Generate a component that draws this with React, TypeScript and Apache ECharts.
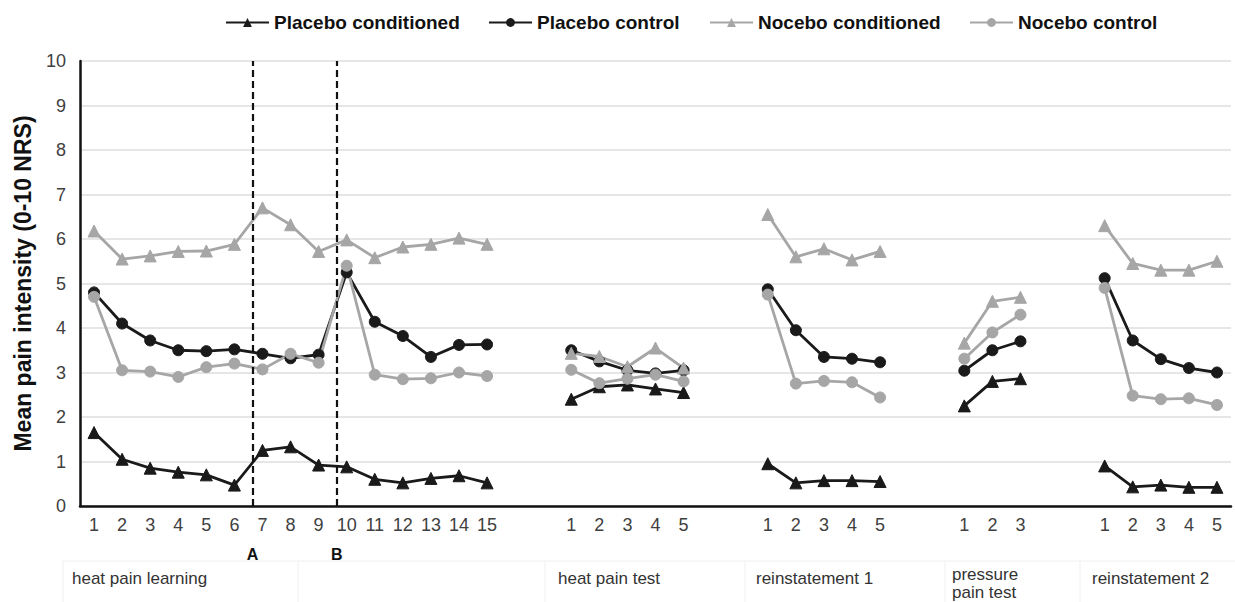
import React, { useEffect, useRef } from 'react';
import * as echarts from 'echarts';

// Phases of the experiment and number of trials per phase
const phaseNames = ['heat pain learning', 'heat pain test', 'reinstatement 1', 'pressure\npain test', 'reinstatement 2'];
const phaseTrials = [15, 5, 5, 3, 5];
const gapSlots = 2;

// Mean pain intensity per phase (0-10 NRS)
const placeboConditioned = [
  [1.65, 1.05, 0.85, 0.76, 0.7, 0.47, 1.25, 1.33, 0.92, 0.88, 0.6, 0.52, 0.62, 0.68, 0.52],
  [2.4, 2.68, 2.72, 2.63, 2.55],
  [0.95, 0.52, 0.57, 0.57, 0.55],
  [2.25, 2.8, 2.86],
  [0.9, 0.43, 0.47, 0.42, 0.42],
];
const placeboControl = [
  [4.8, 4.1, 3.72, 3.5, 3.48, 3.52, 3.42, 3.32, 3.4, 5.25, 4.14, 3.82, 3.35, 3.62, 3.63],
  [3.5, 3.25, 3.05, 2.98, 3.05],
  [4.87, 3.95, 3.35, 3.31, 3.23],
  [3.04, 3.5, 3.7],
  [5.12, 3.72, 3.3, 3.1, 3.0],
];
const noceboConditioned = [
  [6.18, 5.55, 5.62, 5.72, 5.73, 5.88, 6.7, 6.32, 5.72, 5.98, 5.58, 5.82, 5.88, 6.02, 5.88],
  [3.43, 3.36, 3.13, 3.55, 3.1],
  [6.55, 5.6, 5.78, 5.53, 5.72],
  [3.66, 4.6, 4.69],
  [6.3, 5.45, 5.3, 5.3, 5.5],
];
const noceboControl = [
  [4.7, 3.05, 3.02, 2.9, 3.12, 3.2, 3.07, 3.42, 3.22, 5.4, 2.95, 2.85, 2.87, 3.0, 2.92],
  [3.06, 2.76, 2.86, 2.95, 2.8],
  [4.75, 2.75, 2.81, 2.78, 2.44],
  [3.31, 3.9, 4.3],
  [4.9, 2.48, 2.4, 2.42, 2.27],
];

const seriesNames = ['Placebo conditioned', 'Placebo control', 'Nocebo conditioned', 'Nocebo control'];
const yTicks = { min: 0, max: 10, interval: 1 };

// Vertical dashed markers (position in category slots from the left edge)
const switchPositions = [6.15, 9.15];
const switchLabels = ['A', 'B'];

function buildCategories(): string[] {
  const out: string[] = [];
  phaseTrials.forEach((n, p) => {
    for (let i = 1; i <= n; i++) out.push(String(i));
    if (p < phaseTrials.length - 1) for (let g = 0; g < gapSlots; g++) out.push('');
  });
  return out;
}

function flatten(groups: number[][]): (number | null)[] {
  const out: (number | null)[] = [];
  groups.forEach((g, p) => {
    g.forEach((v) => out.push(v));
    if (p < groups.length - 1) for (let k = 0; k < gapSlots; k++) out.push(null);
  });
  return out;
}

const FONT = '"Liberation Sans", Arial, sans-serif';
const BLACK = '#1a1a1a';
const GRAY = '#a6a6a6';

export default function App() {
  const ref = useRef<HTMLDivElement>(null);
  useEffect(() => {
    if (!ref.current) return;
    const chart = echarts.init(ref.current, undefined, { renderer: 'svg' });
    const categories = buildCategories();
    const total = categories.length;

    const mk = (name: string, data: number[][], color: string, symbol: string, size: number) => ({
      name,
      type: 'line',
      data: flatten(data),
      connectNulls: false,
      symbol,
      symbolSize: size,
      lineStyle: { color, width: 2.8 },
      itemStyle: { color, borderColor: color },
      z: 3,
    });

    const legendLefts = [220, 483, 704, 964];
    const groupLabelX = [72, 558, 756, 952, 1092];
    const groupLabelTop = [569, 569, 569, 565, 569];

    const option: any = {
      animation: false,
      backgroundColor: '#ffffff',
      textStyle: { fontFamily: FONT },
      legend: seriesNames.map((n, i) => ({
        data: [n],
        left: legendLefts[i],
        top: 8,
        itemWidth: 43,
        itemHeight: 11,
        itemGap: 30,
        textStyle: { fontFamily: FONT, fontSize: 19, fontWeight: 'bold', color: '#111' },
        selectedMode: false,
      })),
      grid: { left: 80, right: 4, top: 61, bottom: 96, containLabel: false, outerBoundsMode: 'none' },
      xAxis: [
        {
          type: 'category',
          data: categories,
          boundaryGap: true,
          axisLine: { show: true, lineStyle: { color: '#111', width: 2.5 } },
          axisTick: { show: false },
          axisLabel: { interval: 0, fontSize: 18, color: '#404040', margin: 10, fontFamily: FONT },
          splitLine: { show: false },
        },
        {
          type: 'value',
          min: 0,
          max: total,
          show: false,
        },
      ],
      yAxis: {
        type: 'value',
        min: yTicks.min,
        max: yTicks.max,
        interval: yTicks.interval,
        name: 'Mean pain intensity (0-10 NRS)',
        nameLocation: 'middle',
        nameGap: 46,
        nameTextStyle: { fontSize: 23, fontWeight: 'bold', color: '#111', fontFamily: FONT },
        axisLine: { show: true, lineStyle: { color: '#111', width: 2.5 } },
        axisTick: { show: false },
        axisLabel: { fontSize: 18, color: '#404040', margin: 14, fontFamily: FONT },
        splitLine: { show: true, lineStyle: { color: '#dedede', width: 1.5 } },
      },
      series: [
        mk(seriesNames[0], placeboConditioned, BLACK, 'triangle', 12),
        mk(seriesNames[1], placeboControl, BLACK, 'circle', 11),
        mk(seriesNames[2], noceboConditioned, GRAY, 'triangle', 12),
        mk(seriesNames[3], noceboControl, GRAY, 'circle', 11),
        {
          name: 'markers',
          type: 'line',
          xAxisIndex: 1,
          data: [],
          z: 5,
          markLine: {
            silent: true,
            symbol: ['none', 'none'],
            animation: false,
            lineStyle: { color: '#111', type: [7, 4], width: 2.2 },
            label: {
              show: true,
              position: 'start',
              distance: 40,
              formatter: '{b}',
              fontSize: 16,
              fontWeight: 'bold',
              color: '#111',
              fontFamily: FONT,
            },
            data: switchPositions.map((x, i) => ({ xAxis: x, name: switchLabels[i] })),
          },
        },
      ],
      graphic: [
        { type: 'line', shape: { x1: 63, y1: 561, x2: 1235, y2: 561 }, style: { stroke: '#f0f0f0', lineWidth: 1 }, silent: true },
        ...[63, 298, 545, 745, 945, 1080].map((x) => ({
          type: 'line',
          shape: { x1: x, y1: 561, x2: x, y2: 602 },
          style: { stroke: '#f0f0f0', lineWidth: 1 },
          silent: true,
        })),
        ...phaseNames.map((t, i) => ({
          type: 'text',
          left: groupLabelX[i],
          top: groupLabelTop[i],
          style: { text: t, fontSize: 17, fill: '#333', fontFamily: FONT, lineHeight: 18 },
          silent: true,
        })),
      ],
    };
    chart.setOption(option);
    return () => chart.dispose();
  }, []);
  return (
    <div
      ref={ref}
      style={{ position: 'absolute', left: 0, top: 0, width: 1235, height: 602, background: '#fff' }}
    />
  );
}
